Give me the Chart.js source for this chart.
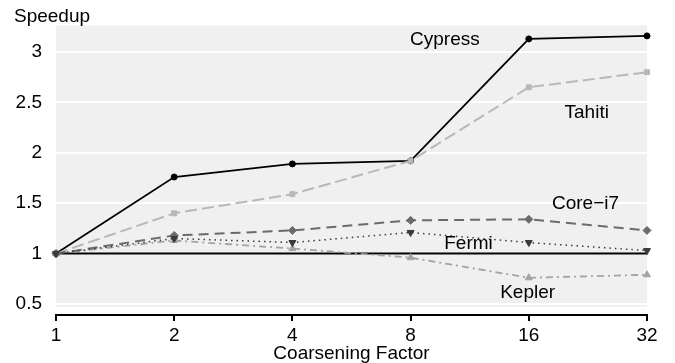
<!DOCTYPE html>
<html>
<head>
<meta charset="utf-8">
<script src="https://cdn.jsdelivr.net/npm/chart.js@4.4.0/dist/chart.umd.min.js"></script>
<style>
  html, body { margin: 0; padding: 0; background: #fff; }
</style>
</head>
<body>
<canvas id="speedup" width="675" height="363"></canvas>
<script>
// x axis categories (coarsening factor) and y ticks
const factors = ["1", "2", "4", "8", "16", "32"];
const yTicks = [0.5, 1, 1.5, 2, 2.5, 3];

// speedup per device
const cypress = [1, 1.76, 1.89, 1.92, 3.13, 3.16];
const tahiti  = [1, 1.40, 1.59, 1.92, 2.65, 2.80];
const corei7  = [1, 1.18, 1.23, 1.33, 1.34, 1.23];
const fermi   = [1, 1.15, 1.11, 1.21, 1.11, 1.03];
const kepler  = [1, 1.13, 1.05, 0.96, 0.76, 0.79];
const baseline = [1, 1, 1, 1, 1, 1];

// device names written inside the plot, anchored in data coords (x = category index)
const tagNames = ["Cypress", "Tahiti", "Core\u2212i7", "Fermi", "Kepler"];
const tagX = [3.29, 4.49, 4.48, 3.49, 3.99];
const tagY = [3.118, 2.395, 1.49, 1.095, 0.608];

const FONT = '"Liberation Sans", Arial, Helvetica, sans-serif';
const panelMin = 0.473; // grey panel stops a bit above the x axis line

// grey panel behind the data (ggplot-ish)
const panelBg = {
    id: 'panelBg',
    beforeDraw(chart) {
        const { ctx, chartArea: a, scales: { y } } = chart;
        ctx.save();
        ctx.fillStyle = '#f0f0f0';
        const bottom = y.getPixelForValue(panelMin);
        ctx.fillRect(a.left, a.top, a.right - a.left, bottom - a.top);
        ctx.restore();
    }
};

// text labels next to the lines
const deviceText = {
    id: 'deviceText',
    afterDatasetsDraw(chart) {
        const { ctx, scales: { x, y } } = chart;
        ctx.save();
        ctx.font = '19px ' + FONT;
        ctx.fillStyle = '#000';
        ctx.textAlign = 'center';
        ctx.textBaseline = 'middle';
        tagNames.forEach((t, i) => {
            ctx.fillText(t, x.getPixelForValue(tagX[i]), y.getPixelForValue(tagY[i]));
        });
        ctx.restore();
    }
};

const line = (data, color, width, dash, style, radius, rot) => ({
    data,
    borderColor: color,
    backgroundColor: color,
    borderWidth: width,
    borderDash: dash,
    pointStyle: style,
    pointRadius: radius,
    pointRotation: rot || 0,
    pointBorderWidth: 1,
    pointBorderColor: color,
    pointBackgroundColor: color,
    tension: 0,
    fill: false
});

// index 0 is drawn last (on top)
const datasets = [
    line(fermi,   '#3a3a3a', 1.5, [1.5, 4],      'triangle', 4, 180),
    line(corei7,  '#6b6b6b', 2,   [10, 6],       'rectRot',  4),
    line(kepler,  '#a3a3a3', 1.8, [7, 4, 2, 4],  'triangle', 4),
    line(tahiti,  '#b8b8b8', 2,   [12, 5],       'rect',     3.5),
    line(cypress, '#000000', 1.8, [],            'circle',   3),
    line(baseline,'#000000', 2,   [],            'circle',   0)
];

new Chart(document.getElementById('speedup'), {
    type: 'line',
    data: { labels: factors, datasets },
    plugins: [panelBg, deviceText],
    options: {
        responsive: false,
        animation: false,
        layout: { padding: { left: 14, right: 28, top: 0, bottom: 0 } },
        plugins: {
            legend: { display: false },
            tooltip: { enabled: false },
            title: {
                display: true,
                text: 'Speedup',
                align: 'start',
                color: '#000',
                font: { family: FONT, size: 19, weight: 'normal', lineHeight: 0.9 },
                padding: { top: 7, bottom: 0 }
            }
        },
        scales: {
            x: {
                type: 'category',
                offset: false,
                afterFit(s) { s.height = 48; },
                grid: {
                    drawOnChartArea: false,
                    drawTicks: true,
                    tickLength: 6,
                    color: '#000',
                    lineWidth: 2
                },
                border: { display: true, color: '#000', width: 2 },
                ticks: {
                    color: '#000',
                    padding: 3,
                    maxRotation: 0,
                    font: { family: FONT, size: 19 }
                },
                title: {
                    display: true,
                    text: 'Coarsening Factor',
                    color: '#000',
                    font: { family: FONT, size: 19, lineHeight: 1.0 },
                    padding: { top: 0, bottom: 0 }
                }
            },
            y: {
                min: 0.391,
                max: 3.264,
                afterFit(s) { s.width = 42; },
                afterBuildTicks(s) { s.ticks = yTicks.map(v => ({ value: v })); },
                grid: { color: '#ffffff', lineWidth: 2, drawTicks: false },
                border: { display: false },
                ticks: {
                    color: '#000',
                    padding: 14,
                    font: { family: FONT, size: 19 },
                    callback: v => String(v)
                }
            }
        }
    }
});
</script>
</body>
</html>
